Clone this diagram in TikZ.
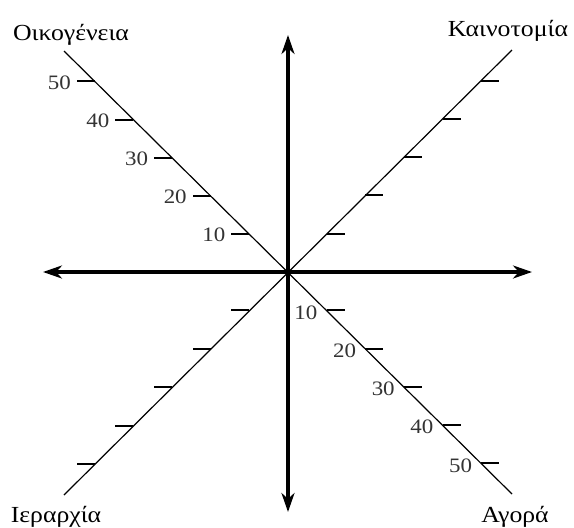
\documentclass[tikz,border=0pt]{standalone}
\usepackage{fontspec}
\setmainfont{Liberation Serif}
\newfontfamily\wideserif[FakeStretch=1.12]{Liberation Serif}
\usetikzlibrary{arrows.meta}
\begin{document}
\begin{tikzpicture}[x=1pt,y=-1pt,
  axis/.style={line width=3.6pt, {Stealth[length=19pt,width=13pt,inset=6pt]}-{Stealth[length=19pt,width=13pt,inset=6pt]}},
  diag/.style={line width=1.2pt},
  tickmark/.style={line width=2pt},
  num/.style={font=\wideserif\fontsize{20.5}{20.5}\selectfont, inner sep=0pt, text=black!80},
  title/.style={font=\wideserif\fontsize{23}{23}\selectfont, inner sep=0pt, anchor=base}]
\useasboundingbox (0,0) rectangle (574,528);
\coordinate (O) at (288,272);
\coordinate (N) at (288,35);
\coordinate (S) at (288,512);
\coordinate (W) at (43,272);
\coordinate (E) at (532,272);
\coordinate (NW) at (64,51);
\coordinate (NE) at (512,50);
\coordinate (SW) at (64,495);
\coordinate (SE) at (512,494);
% diagonals
\draw[diag] (NW) -- (SE);
\draw[diag] (SW) -- (NE);
% axes
\draw[axis] (N) -- (S);
\draw[axis] (W) -- (E);
% ticks
\foreach \k in {1,...,5}{
  \path (O) -- (NW) coordinate[pos=\k*0.1725] (nw\k);
  \path (O) -- (NE) coordinate[pos=\k*0.1725] (ne\k);
  \path (O) -- (SW) coordinate[pos=\k*0.1725] (sw\k);
  \path (O) -- (SE) coordinate[pos=\k*0.1725] (se\k);
  \draw[tickmark] (nw\k) -- ++(-18,0) node[num, anchor=east, xshift=-5pt, yshift=-1pt] {\k0};
  \draw[tickmark] (ne\k) -- ++(18,0);
  \draw[tickmark] (sw\k) -- ++(-18,0);
  \draw[tickmark] (se\k) -- ++(18,0);
  \node[num, anchor=east, xshift=-9pt, yshift=-2pt] at (se\k) {\k0};
}
% titles
\node[title] (t1) at (71,40) {Οικογένεια};
\node[title] (t2) at (508,36) {Καινοτομία};
\node[title] (t3) at (56,522) {Ιεραρχία};
\node[title] (t4) at (515,522) {Αγορά};
\end{tikzpicture}
\end{document}
